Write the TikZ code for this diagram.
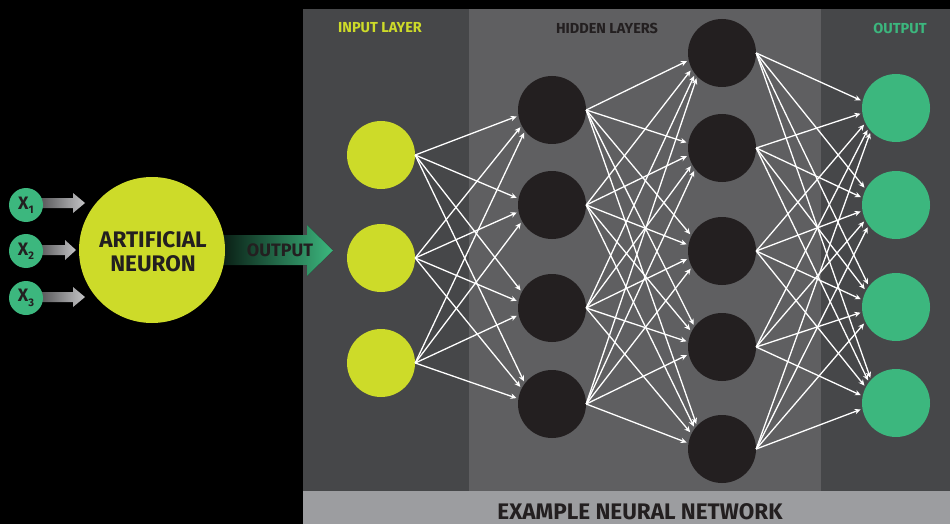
\documentclass[tikz,border=0pt]{standalone}
\usepackage{fontspec}
\setmainfont{Fira Sans}
\usetikzlibrary{arrows.meta,calc}
\definecolor{panelD}{HTML}{464749}
\definecolor{panelM}{HTML}{5F5F61}
\definecolor{bandC}{HTML}{9C9DA0}
\definecolor{yel}{HTML}{CDDB29}
\definecolor{grn}{HTML}{3CB77E}
\definecolor{ink}{HTML}{231F20}
\definecolor{arrL}{HTML}{4A4A4C}
\definecolor{arrR}{HTML}{C4C4C6}
\tikzset{
  neuron/.style={circle,minimum size=68pt,inner sep=0pt,draw=none},
  innode/.style={neuron,fill=yel},
  hidnode/.style={neuron,fill=ink},
  outnode/.style={neuron,fill=grn},
  xnode/.style={circle,minimum size=34pt,inner sep=0pt,fill=grn,text=ink,font=\bfseries\fontsize{18}{18}\selectfont},
  hdr/.style={font=\bfseries\fontsize{14.5}{14.5}\selectfont,inner sep=0pt},
  conn/.style={white,line width=1.3pt,-{Stealth[length=6pt,width=5.5pt]}},
  grayarrow/.style={left color=arrL,right color=arrR,draw=none},
}
\newcommand\linkto[2]{%
  \draw[conn] let \p1=(#1.center), \p2=(#2.center), \n1={atan2(\y1-\y2,\x2-\x1)} in
    (#1.east) -- ($(#2.center)+({180-0.7*(\n1)}:36pt)$);}
\newcommand\xlab[1]{X\raisebox{-0.45ex}{\fontsize{11}{11}\selectfont #1}}
\begin{document}
\begin{tikzpicture}[x=1pt,y=-1pt]
\useasboundingbox (0,0) rectangle (950,524);
\fill[black] (0,0) rectangle (950,524);
% panels
\fill[panelD] (303,9) rectangle (469,491);
\fill[panelM] (469,9) rectangle (821,491);
\fill[panelD] (821,9) rectangle (950,491);
\fill[bandC] (303,491) rectangle (950,524);
% headers
\node[hdr,text=yel] (lin) at (380,28) {INPUT LAYER};
\node[hdr,text=ink] (lhid) at (607,28) {HIDDEN LAYERS};
\node[hdr,text=grn] (lout) at (900,28) {OUTPUT};
\node[font=\bfseries\fontsize{22.5}{22.5}\selectfont,text=ink,inner sep=0pt,anchor=north] (title) at (640,503.5) {EXAMPLE NEURAL NETWORK};
% left: input arrows
\fill[grayarrow] (35,198) -- (73,198) -- (73,193) -- (85,203) -- (73,213) -- (73,208) -- (35,208) -- cycle;
\fill[grayarrow] (35,245) -- (65,245) -- (65,240) -- (76,250) -- (65,260) -- (65,255) -- (35,255) -- cycle;
\fill[grayarrow] (35,292) -- (73,292) -- (73,287) -- (85,297) -- (73,307) -- (73,302) -- (35,302) -- cycle;
\node[xnode] (x1) at (26,205) {\xlab{1}};
\node[xnode] (x2) at (26,251) {\xlab{2}};
\node[xnode] (x3) at (26,298) {\xlab{3}};
% output arrow
\fill[left color=black,right color=grn] (200,235) -- (307,235) -- (307,225) -- (333,250.5) -- (307,276) -- (307,265) -- (200,265) -- cycle;
\node[circle,minimum size=146pt,inner sep=0pt,fill=yel] (an) at (152,250) {};
\node[font=\bfseries\fontsize{22.5}{24}\selectfont,text=ink,align=center,inner sep=0pt] (antext) at (153,251.7) {ARTIFICIAL\\NEURON};
\node[font=\bfseries\fontsize{18}{18}\selectfont,text=ink,inner sep=0pt] (outtext) at (280,250.5) {OUTPUT};
% network nodes
\node[innode] (i1) at (381,155) {};
\node[innode] (i2) at (381,258) {};
\node[innode] (i3) at (381,363) {};
\node[hidnode] (a1) at (552,110) {};
\node[hidnode] (a2) at (552,205) {};
\node[hidnode] (a3) at (552,308) {};
\node[hidnode] (a4) at (552,404) {};
\node[hidnode] (b1) at (722,53) {};
\node[hidnode] (b2) at (722,148) {};
\node[hidnode] (b3) at (722,251) {};
\node[hidnode] (b4) at (722,347) {};
\node[hidnode] (b5) at (722,449) {};
\node[outnode] (o1) at (896,108) {};
\node[outnode] (o2) at (896,205) {};
\node[outnode] (o3) at (896,307) {};
\node[outnode] (o4) at (896,403) {};
% connections
\foreach \s in {i1,i2,i3}{\foreach \t in {a1,a2,a3,a4}{\linkto{\s}{\t}}}
\foreach \s in {a1,a2,a3,a4}{\foreach \t in {b1,b2,b3,b4,b5}{\linkto{\s}{\t}}}
\foreach \s in {b1,b2,b3,b4,b5}{\foreach \t in {o1,o2,o3,o4}{\linkto{\s}{\t}}}
\end{tikzpicture}
\end{document}
